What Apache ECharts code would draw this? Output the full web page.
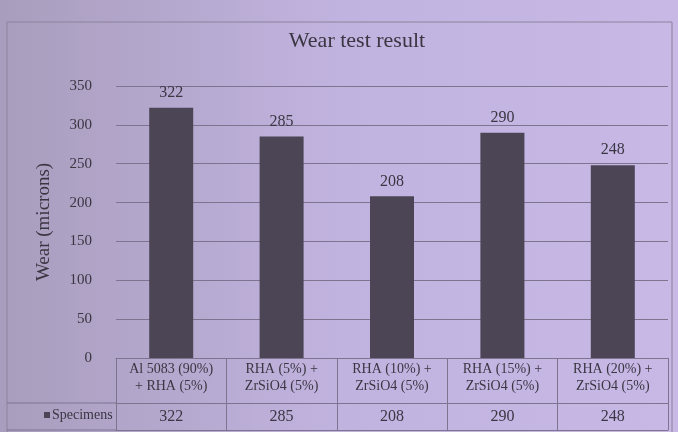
<!DOCTYPE html>
<html>
<head>
<meta charset="utf-8">
<script src="https://cdn.jsdelivr.net/npm/echarts@6/dist/echarts.min.js"></script>
<style>
  html, body { margin: 0; padding: 0; background: #b7a9d2; }
  #main { width: 678px; height: 432px; }
</style>
</head>
<body>
<div id="main"></div>
<script>
var categories = [
  'Al 5083 (90%)\n+ RHA (5%)',
  'RHA (5%) +\nZrSiO4 (5%)',
  'RHA (10%) +\nZrSiO4 (5%)',
  'RHA (15%) +\nZrSiO4 (5%)',
  'RHA (20%) +\nZrSiO4 (5%)'
];
var wear = [322, 285, 208, 290, 248];
var seriesName = 'Specimens';

var chartDom = document.getElementById('main');
var myChart = echarts.init(chartDom);

var lineColor = '#7d7590';
var textColor = '#3a3642';
var font = 'Liberation Serif';
var gridLeft = 116, gridRight = 10, gridTop = 86, gridBottom = 74;
var axisY = 432 - gridBottom;
var rowOffset = 45, tableOffset = 72;

var option = {
  backgroundColor: new echarts.graphic.LinearGradient(0, 0, 1, 0, [
    { offset: 0, color: '#a99dbd' },
    { offset: 0.5, color: '#c1b3df' },
    { offset: 1, color: '#c7b8e6' }
  ]),
  title: {
    text: 'Wear test result',
    left: 352,
    textAlign: 'center',
    top: 25,
    textStyle: { fontFamily: font, fontSize: 22, fontWeight: 'normal', color: textColor }
  },
  grid: { left: gridLeft, right: gridRight, top: gridTop, bottom: gridBottom },
  xAxis: [
    {
      type: 'category',
      data: categories,
      axisLine: { show: true, lineStyle: { color: lineColor } },
      axisTick: { show: true, length: tableOffset, lineStyle: { color: lineColor } },
      axisLabel: {
        interval: 0, margin: 3, color: textColor,
        fontFamily: font, fontSize: 14, lineHeight: 17
      }
    },
    {
      type: 'category',
      position: 'bottom',
      offset: rowOffset,
      data: wear.map(String),
      axisLine: { show: true, lineStyle: { color: lineColor } },
      axisTick: { show: false },
      axisLabel: { interval: 0, margin: 6, color: textColor, fontFamily: font, fontSize: 16 }
    },
    {
      type: 'category',
      position: 'bottom',
      offset: tableOffset,
      data: categories,
      axisLine: { show: true, lineStyle: { color: lineColor } },
      axisTick: { show: false },
      axisLabel: { show: false }
    }
  ],
  yAxis: {
    type: 'value',
    min: 0,
    max: 350,
    interval: 50,
    name: 'Wear (microns)',
    nameLocation: 'middle',
    nameGap: 62,
    nameTextStyle: { fontFamily: font, fontSize: 19, color: textColor },
    axisLine: { show: false },
    axisTick: { show: false },
    axisLabel: { margin: 24, color: textColor, fontFamily: font, fontSize: 15 },
    splitLine: { lineStyle: { color: lineColor } }
  },
  series: [
    {
      name: seriesName,
      type: 'bar',
      data: wear,
      barWidth: 44,
      itemStyle: { color: '#4b4556' },
      label: {
        show: true, position: 'top', distance: 7,
        color: textColor, fontFamily: font, fontSize: 16
      }
    }
  ],
  graphic: [
    { type: 'rect', shape: { x: 7, y: 22, width: 665, height: 420 },
      style: { fill: 'none', stroke: '#8c839c', lineWidth: 1 }, silent: true },
    { type: 'line', shape: { x1: 7, y1: axisY + rowOffset, x2: gridLeft, y2: axisY + rowOffset },
      style: { stroke: lineColor, lineWidth: 1 } },
    { type: 'line', shape: { x1: 7, y1: axisY + tableOffset, x2: gridLeft, y2: axisY + tableOffset },
      style: { stroke: lineColor, lineWidth: 1 } },
    { type: 'rect', shape: { x: 44, y: axisY + 54, width: 6, height: 6 },
      style: { fill: '#4b4556' } },
    { type: 'text', left: 52, top: axisY + 50,
      style: { text: seriesName, fill: textColor, font: '14px "Liberation Serif"' } }
  ]
};

option && myChart.setOption(option);
</script>
</body>
</html>
